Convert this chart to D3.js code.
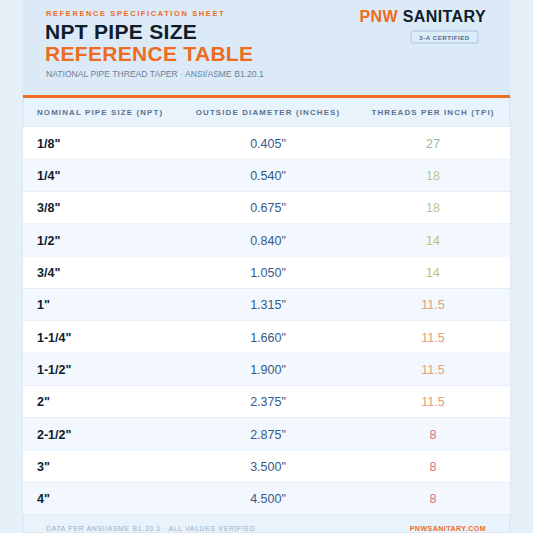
<!DOCTYPE html>
<html><head><meta charset="utf-8">
<script src="https://cdn.jsdelivr.net/npm/d3@7"></script>
<style>body{margin:0;background:#e6f0f9;}svg{display:block;font-family:"Liberation Sans",Arial,sans-serif;}</style>
</head><body><div id="chart"></div>
<script>
// Table data
const sizes = ['1/8"', '1/4"', '3/8"', '1/2"', '3/4"', '1"', '1-1/4"', '1-1/2"', '2"', '2-1/2"', '3"', '4"'];
const diameters = ["0.405", "0.540", "0.675", "0.840", "1.050", "1.315", "1.660", "1.900", "2.375", "2.875", "3.500", "4.500"];
const tpi = [27, 18, 18, 14, 14, 11.5, 11.5, 11.5, 11.5, 8, 8, 8];
const columns = ["NOMINAL PIPE SIZE (NPT)", "OUTSIDE DIAMETER (INCHES)", "THREADS PER INCH (TPI)"];

const W = 533, H = 533;
const card = { x0: 23, x1: 510 };
const svg = d3.select("#chart").append("svg").attr("width", W).attr("height", H);

// fond + carte
svg.append("rect").attr("width", W).attr("height", H).attr("fill", "#e6f0f9");
svg.append("rect").attr("x", card.x0).attr("y", 0).attr("width", card.x1 - card.x0).attr("height", H)
    .attr("fill", "#e9f3fb").attr("stroke", "#d3e3f1");
svg.append("rect").attr("x", card.x0).attr("y", 0).attr("width", card.x1 - card.x0).attr("height", 95).attr("fill", "#dbeaf6");
svg.append("rect").attr("x", card.x0).attr("y", 95).attr("width", card.x1 - card.x0).attr("height", 3).attr("fill", "#ee6b1f");

// en-tête
svg.append("text").attr("x", 46).attr("y", 16).attr("fill", "#ee6b1f").attr("font-size", 7.5).attr("font-weight", "bold")
    .attr("letter-spacing", 1.6).text("REFERENCE SPECIFICATION SHEET");
svg.append("text").attr("x", 45).attr("y", 39).attr("fill", "#0f1c2c").attr("font-size", 21).attr("font-weight", "bold")
    .attr("letter-spacing", 0.3).text("NPT PIPE SIZE");
svg.append("text").attr("x", 45).attr("y", 61).attr("fill", "#ee6b1f").attr("font-size", 21).attr("font-weight", "bold")
    .attr("letter-spacing", 0.3).text("REFERENCE TABLE");
svg.append("text").attr("x", 46).attr("y", 77).attr("fill", "#6c819a").attr("font-size", 8.6).text("NATIONAL PIPE THREAD TAPER · ANSI/ASME B1.20.1");
const brand = svg.append("text").attr("x", 486).attr("y", 22).attr("text-anchor", "end").attr("font-size", 16).attr("font-weight", "bold").attr("letter-spacing", 0.4);
brand.append("tspan").attr("fill", "#ee6b1f").text("PNW ");
brand.append("tspan").attr("fill", "#0f1c2c").text("SANITARY");
svg.append("rect").attr("x", 411).attr("y", 31).attr("width", 67).attr("height", 12).attr("rx", 2)
    .attr("fill", "#dcebf8").attr("stroke", "#a9c4e0");
svg.append("text").attr("x", 444.5).attr("y", 40).attr("text-anchor", "middle").attr("font-size", 6).attr("font-weight", "bold")
    .attr("fill", "#4a6a8e").attr("letter-spacing", 0.6).text("3-A CERTIFIED");

// colonnes
const colX = [37, 268, 433];
const colAnchor = ["start", "middle", "middle"];
columns.forEach((c, i) => {
    svg.append("text").attr("x", colX[i]).attr("y", 115)
        .attr("text-anchor", colAnchor[i]).attr("font-size", 7.9).attr("font-weight", "bold")
        .attr("fill", "#5a7290").attr("letter-spacing", 1.15).text(c);
});
svg.append("line").attr("x1", card.x0).attr("x2", card.x1).attr("y1", 127).attr("y2", 127).attr("stroke", "#cfe0ef");

// lignes
const y = d3.scaleBand().domain(d3.range(sizes.length)).range([127, 515]);
const tpiColor = d3.scaleOrdinal().domain([27, 18, 14, 11.5, 8]).range(["#9cb89a", "#b2ca94", "#cdbd68", "#e0a27a", "#dc6f6f"]);

const rows = svg.append("g").selectAll("g").data(sizes).join("g")
    .attr("transform", (d, i) => `translate(0,${y(i)})`);
rows.append("rect").attr("x", card.x0).attr("width", card.x1 - card.x0).attr("height", y.bandwidth())
    .attr("fill", (d, i) => i % 2 ? "#f2f8fd" : "#ffffff");
rows.append("line").attr("x1", card.x0).attr("x2", card.x1).attr("y1", y.bandwidth()).attr("y2", y.bandwidth()).attr("stroke", "#d6e5f2");
rows.append("text").attr("x", 37).attr("y", y.bandwidth() / 2 + 4.5).attr("font-size", 12.5).attr("font-weight", "bold")
    .attr("fill", "#0f1c2c").text(d => d);
rows.append("text").attr("x", 268).attr("y", y.bandwidth() / 2 + 4.5).attr("text-anchor", "middle").attr("font-size", 12.5)
    .attr("fill", "#35598a").text((d, i) => diameters[i] + '"');
rows.append("text").attr("x", 433).attr("y", y.bandwidth() / 2 + 4.5).attr("text-anchor", "middle").attr("font-size", 12.5)
    .attr("fill", (d, i) => tpiColor(tpi[i])).text((d, i) => tpi[i]);

// pied de page
svg.append("text").attr("x", 46).attr("y", 531).attr("font-size", 7).attr("fill", "#9aafc5").attr("letter-spacing", 0.6)
    .text("DATA PER ANSI/ASME B1.20.1 · ALL VALUES VERIFIED");
svg.append("text").attr("x", 486).attr("y", 531).attr("text-anchor", "end").attr("font-size", 7).attr("font-weight", "bold")
    .attr("fill", "#ee6b1f").attr("letter-spacing", 0.5).text("PNWSANITARY.COM");
</script></body></html>
